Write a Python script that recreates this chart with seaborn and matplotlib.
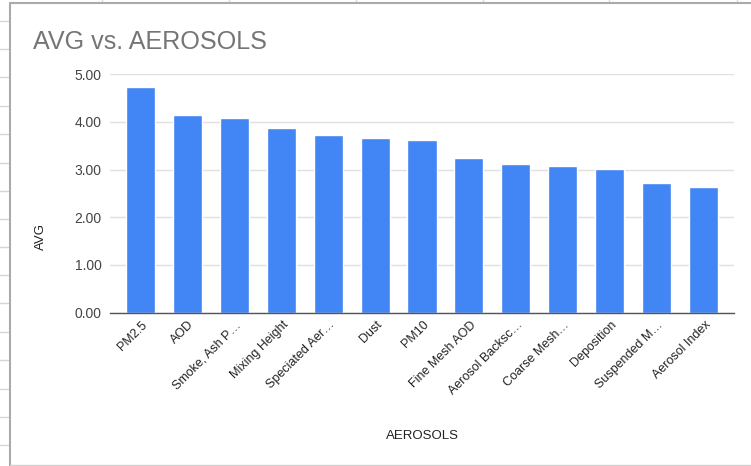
import matplotlib
matplotlib.use("Agg")
import matplotlib.pyplot as plt
from matplotlib.lines import Line2D
from matplotlib.transforms import ScaledTranslation
import seaborn as sns

aerosols = ["PM2.5", "AOD", "Smoke, Ash P…", "Mixing Height", "Speciated Aer…",
            "Dust", "PM10", "Fine Mesh AOD", "Aerosol Backsc…", "Coarse Mesh…",
            "Deposition", "Suspended M…", "Aerosol Index"]
avg = [4.74, 4.14, 4.08, 3.87, 3.72, 3.66, 3.62, 3.24, 3.11, 3.08, 3.01, 2.72, 2.64]
yticks = [0, 1, 2, 3, 4, 5]

sns.set_style("white")
plt.rcParams["font.family"] = ["Liberation Sans", "DejaVu Sans"]

W, H = 751, 466
fig = plt.figure(figsize=(W / 100, H / 100), dpi=100)
ax = fig.add_axes([110 / W, 1 - 312.5 / H, 624 / W, 238.2 / H])

sns.barplot(x=aerosols, y=avg, color="#4285F4", saturation=1, width=0.62, ax=ax, zorder=3)

ax.set_ylim(0, 5)
ax.set_xlim(-0.65, len(aerosols) - 0.35)
ax.set_yticks(yticks)
ax.set_yticklabels([f"{t:.2f}" for t in yticks], fontsize=10, color="#444444")
ax.tick_params(axis="y", length=0, pad=6)
ax.tick_params(axis="x", length=0, pad=4)
ax.grid(axis="y", color="#e0e0e0", linewidth=1, zorder=0)
ax.set_xticks(range(len(aerosols)))
ax.set_xticklabels(aerosols, rotation=45, ha="right", va="center",
                   rotation_mode="anchor", fontsize=9, color="#222222")
shift = ScaledTranslation(5 / 100, -5 / 100, fig.dpi_scale_trans)
for lab in ax.get_xticklabels():
    lab.set_transform(lab.get_transform() + shift)
for s in ["top", "right", "left"]:
    ax.spines[s].set_visible(False)
ax.spines["bottom"].set_color("#555555")
ax.spines["bottom"].set_linewidth(1)
ax.spines["bottom"].set_zorder(4)

ax.set_ylabel("AVG", fontsize=9.5, color="#222222")
ax.yaxis.set_label_coords((47 - 110) / 624, (312.5 - 236.5) / 238.2)
ax.set_xlabel("AEROSOLS", fontsize=9.5, color="#222222")
ax.xaxis.set_label_coords(0.5, (312.5 - 430) / 238.2)

fig.text(33 / W, 1 - 49 / H, "AVG vs. AEROSOLS", fontsize=18.1, color="#757575",
         va="baseline", ha="left")

# spreadsheet background and chart frame
for yy in [20.7, 49.3, 77.3, 106, 134, 162.7, 190.7, 219.3, 247.3, 275.3,
           303.3, 332, 360, 388.7, 416.7, 444.7]:
    fig.add_artist(Line2D([0, 8 / W], [1 - yy / H] * 2, color="#d6d6d6", lw=1))
for xx in [102, 229, 356, 483, 609, 737]:
    fig.add_artist(Line2D([xx / W] * 2, [1, 1 - 3 / H], color="#d6d6d6", lw=1))
fig.add_artist(Line2D([10 / W, 10 / W], [0, 1 - 3 / H], color="#aaaaaa", lw=1.5))
fig.add_artist(Line2D([10 / W, 1], [1 - 3 / H] * 2, color="#aaaaaa", lw=1.5))
fig.add_artist(Line2D([10 / W, 1], [1 - 464.5 / H] * 2, color="#d0d0d0", lw=1))

fig.savefig("out.png", dpi=100)
